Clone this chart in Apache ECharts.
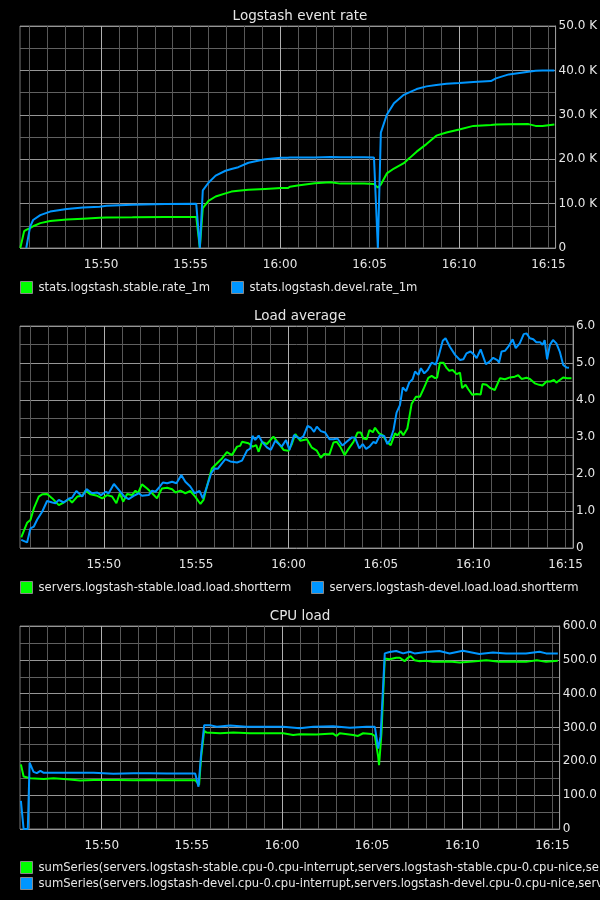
<!DOCTYPE html>
<html>
<head>
<meta charset="utf-8">
<script src="https://cdn.jsdelivr.net/npm/echarts@6/dist/echarts.min.js"></script>
<style>
  html, body { margin: 0; padding: 0; background: #000; }
  #main { width: 600px; height: 900px; }
</style>
</head>
<body>
<div id="main"></div>
<script>
// all times are seconds after 15:45:00
const axisStart = 28
const axisEnd = 1824
const tickLabels = ['15:50', '15:55', '16:00', '16:05', '16:10', '16:15']
const majorGridLabels = ['15:50', '16:00', '16:10']

// Logstash event rate (thousands of events)
const rateTimes = ['15:45:29', '15:45:42', '15:45:49', '15:46:02', '15:46:12', '15:46:36', '15:47:09', '15:48:05', '15:48:59', '15:49:55',
  '15:50:18', '15:51:45', '15:53:35', '15:55:19', '15:55:31', '15:55:41', '15:56:00', '15:56:24', '15:56:57', '15:57:17',
  '15:57:40', '15:58:14', '15:59:10', '16:00:03', '16:00:26', '16:00:33', '16:00:59', '16:01:56', '16:02:49', '16:03:22',
  '16:04:42', '16:05:15', '16:05:28', '16:05:38', '16:05:58', '16:06:22', '16:06:55', '16:07:15', '16:07:38', '16:08:11',
  '16:08:44', '16:09:18', '16:10:01', '16:10:48', '16:11:47', '16:12:04', '16:12:47', '16:13:53', '16:14:17', '16:14:40', '16:15:20']
const rateStable = [0, 3.8, 4.1, 4.5, 4.9, 5.6, 6.1, 6.4, 6.6, 6.8,
  6.85, 6.9, 7.0, 7.0, 0, 9.0, 10.6, 11.6, 12.3, 12.7,
  12.9, 13.1, 13.3, 13.5, 13.5, 13.8, 14.1, 14.6, 14.8, 14.5,
  14.5, 14.4, 13.6, 14.3, 16.8, 17.9, 19.1, 20.3, 21.7, 23.4,
  25.3, 26.0, 26.7, 27.5, 27.7, 27.8, 27.85, 27.9, 27.5, 27.5, 27.8]
const rateDevel = [null, null, 0, 4.8, 6.3, 7.4, 8.2, 8.8, 9.1, 9.3,
  9.5, 9.75, 9.9, 9.95, 0, 13.0, 14.7, 16.3, 17.4, 17.8,
  18.2, 19.2, 20.0, 20.3, 20.35, 20.4, 20.4, 20.4, 20.5, 20.45,
  20.45, 20.4, 0, 26.0, 30.0, 32.6, 34.5, 35.1, 35.8, 36.4,
  36.7, 37.0, 37.15, 37.4, 37.6, 38.2, 39.1, 39.7, 39.9, 40.0, 40.0]

// Load average
const loadStableSec = [32, 51, 62, 73, 89, 100, 116, 133, 154, 170, 187, 197, 214, 230, 241, 257, 279, 295, 311, 327,
  341, 352, 363, 376, 392, 403, 411, 424, 441, 457, 473, 489, 506, 522, 533, 549, 565, 581, 597, 614,
  624, 635, 651, 668, 684, 700, 716, 733, 743, 749, 770, 784, 795, 803, 814, 830, 851, 868, 884, 900,
  911, 922, 938, 960, 976, 992, 1005, 1016, 1033, 1046, 1057, 1068, 1082, 1095, 1111, 1124, 1135, 1143, 1154, 1163,
  1174, 1181, 1194, 1206, 1219, 1232, 1246, 1254, 1264, 1273, 1286, 1300, 1314, 1327, 1338, 1354, 1365, 1376, 1383, 1392,
  1403, 1414, 1422, 1433, 1446, 1457, 1464, 1475, 1484, 1497, 1511, 1524, 1530, 1543, 1556, 1570, 1587, 1603, 1619, 1635,
  1646, 1657, 1673, 1684, 1700, 1714, 1725, 1738, 1751, 1762, 1770, 1781, 1792, 1805, 1819]
const loadStable = [0.29, 0.68, 0.76, 1.07, 1.39, 1.45, 1.46, 1.34, 1.16, 1.23, 1.32, 1.23, 1.39, 1.41, 1.55, 1.45, 1.41, 1.34, 1.43, 1.39,
  1.21, 1.48, 1.25, 1.46, 1.43, 1.55, 1.48, 1.72, 1.61, 1.48, 1.34, 1.61, 1.63, 1.59, 1.50, 1.55, 1.48, 1.54, 1.39, 1.19,
  1.30, 1.66, 2.15, 2.29, 2.42, 2.59, 2.51, 2.74, 2.76, 2.87, 2.83, 2.74, 2.78, 2.60, 2.87, 2.81, 3.01, 2.83, 2.65, 2.63,
  2.81, 3.08, 2.90, 2.94, 2.71, 2.63, 2.44, 2.54, 2.53, 2.85, 2.87, 2.74, 2.51, 2.68, 2.87, 3.12, 3.12, 2.96, 2.94, 3.19,
  3.13, 3.25, 3.10, 3.05, 2.87, 2.78, 3.10, 3.04, 3.16, 3.05, 3.23, 3.90, 4.09, 4.09, 4.29, 4.60, 4.65, 4.59, 4.61, 5.01,
  5.01, 4.86, 4.79, 4.81, 4.70, 4.74, 4.32, 4.41, 4.29, 4.14, 4.16, 4.15, 4.43, 4.41, 4.32, 4.27, 4.59, 4.56, 4.61, 4.63,
  4.67, 4.57, 4.60, 4.57, 4.45, 4.41, 4.39, 4.50, 4.50, 4.54, 4.47, 4.54, 4.61, 4.59, 4.59]
const loadDevelSec = [32, 51, 62, 73, 84, 100, 116, 133, 143, 154, 170, 187, 197, 211, 230, 244, 262, 279, 291, 306,
  316, 333, 349, 367, 381, 397, 414, 424, 446, 457, 468, 482, 492, 506, 522, 536, 552, 565, 581, 595,
  611, 622, 635, 649, 660, 670, 684, 695, 711, 733, 749, 765, 776, 783, 792, 803, 814, 830, 843, 857,
  878, 892, 903, 918, 938, 949, 962, 973, 983, 992, 1005, 1019, 1033, 1046, 1059, 1075, 1089, 1106, 1116, 1130,
  1141, 1152, 1163, 1176, 1184, 1197, 1211, 1221, 1230, 1241, 1251, 1262, 1271, 1282, 1292, 1303, 1311, 1322, 1330, 1341,
  1352, 1365, 1378, 1387, 1401, 1410, 1424, 1441, 1457, 1468, 1478, 1491, 1503, 1511, 1524, 1541, 1552, 1565, 1578, 1584,
  1592, 1603, 1614, 1628, 1638, 1651, 1664, 1673, 1684, 1695, 1705, 1718, 1725, 1732, 1740, 1749, 1759, 1770, 1781, 1792,
  1803, 1811]
const loadDevel = [0.22, 0.15, 0.53, 0.58, 0.77, 0.98, 1.27, 1.23, 1.21, 1.30, 1.23, 1.34, 1.36, 1.54, 1.39, 1.59, 1.48, 1.50, 1.43, 1.52,
  1.48, 1.73, 1.57, 1.39, 1.32, 1.41, 1.48, 1.41, 1.43, 1.55, 1.52, 1.66, 1.77, 1.75, 1.79, 1.75, 1.97, 1.79, 1.66, 1.48,
  1.54, 1.34, 1.66, 2.02, 2.15, 2.14, 2.29, 2.40, 2.34, 2.31, 2.36, 2.63, 2.69, 3.03, 2.92, 3.04, 2.87, 2.72, 2.65, 2.90,
  2.74, 2.92, 2.65, 3.05, 2.95, 3.03, 3.30, 3.25, 3.14, 3.28, 3.16, 3.12, 2.94, 2.94, 2.96, 2.77, 2.87, 2.99, 2.98, 2.69,
  2.81, 2.68, 2.74, 2.87, 2.83, 3.05, 3.03, 2.81, 2.92, 3.19, 3.66, 3.86, 4.34, 4.24, 4.47, 4.56, 4.77, 4.68, 4.86, 4.72,
  4.81, 5.01, 4.96, 5.17, 5.60, 5.67, 5.44, 5.22, 5.08, 5.10, 5.26, 5.31, 5.22, 5.13, 5.37, 4.97, 5.03, 5.14, 5.08, 5.01,
  5.31, 5.33, 5.44, 5.64, 5.40, 5.53, 5.78, 5.80, 5.67, 5.64, 5.56, 5.56, 5.49, 5.62, 5.10, 5.49, 5.62, 5.53, 5.31, 4.95,
  4.88, 4.87]

// CPU load
const cpuStableSec = [31, 40, 62, 107, 140, 184, 228, 273, 350, 406, 461, 516, 561, 611, 618, 624, 631, 641, 649, 694,
  738, 793, 849, 904, 937, 959, 1015, 1070, 1081, 1092, 1137, 1153, 1170, 1197, 1209, 1220, 1223, 1231, 1242, 1258,
  1280, 1292, 1308, 1319, 1328, 1341, 1358, 1380, 1402, 1458, 1491, 1535, 1580, 1624, 1668, 1712, 1748, 1779, 1818]
const cpuStable = [191, 155, 150, 148, 150, 147, 143, 145, 145, 144, 145, 144, 144, 144, 137, 130, 214, 290, 285, 283,
  285, 283, 283, 283, 278, 280, 279, 282, 275, 283, 278, 275, 283, 281, 275, 214, 189, 283, 504, 502,
  506, 506, 496, 506, 511, 499, 496, 497, 494, 495, 492, 495, 499, 494, 495, 494, 499, 494, 497]
const cpuDevelSec = [31, 40, 54, 60, 73, 84, 96, 107, 184, 273, 339, 406, 461, 516, 561, 611, 622, 631, 641, 660,
  683, 727, 782, 849, 904, 959, 1004, 1070, 1126, 1181, 1209, 1220, 1228, 1242, 1258, 1280, 1303, 1325, 1341, 1380,
  1424, 1458, 1502, 1557, 1602, 1646, 1712, 1757, 1779, 1818]
const cpuDevel = [83, 0, 0, 196, 169, 165, 172, 166, 166, 166, 163, 165, 165, 164, 164, 164, 125, 224, 307, 307,
  302, 306, 302, 302, 302, 298, 302, 304, 299, 302, 302, 238, 273, 519, 523, 526, 519, 524, 519, 523,
  526, 519, 527, 517, 522, 519, 519, 524, 519, 519]

const stableCpuName = 'sumSeries(servers.logstash-stable.cpu-0.cpu-interrupt,servers.logstash-stable.cpu-0.cpu-nice,servers.logstash-stable.cpu-0.cpu-softirq,servers.logstash-stable.cpu-0.cpu-system,servers.logstash-stable.cpu-0.cpu-user)'
const develCpuName = 'sumSeries(servers.logstash-devel.cpu-0.cpu-interrupt,servers.logstash-devel.cpu-0.cpu-nice,servers.logstash-devel.cpu-0.cpu-softirq,servers.logstash-devel.cpu-0.cpu-system,servers.logstash-devel.cpu-0.cpu-user)'

const green = '#00ff00'
const blue = '#0096ff'
const textColor = '#e6e6e6'
const font = 'DejaVu Sans'

function toSec(s) {
  const p = s.split(':').map(Number)
  return p[0] * 3600 + p[1] * 60 + (p[2] || 0) - (15 * 3600 + 45 * 60)
}
function clock(sec) {
  const t = 15 * 60 + 45 + Math.round(sec / 60)
  return Math.floor(t / 60) + ':' + String(t % 60).padStart(2, '0')
}
function pairs(times, values) {
  return times.map((t, i) => [typeof t === 'string' ? toSec(t) : t, values[i]])
}

const labelSec = tickLabels.map(toSec)
const majorSec = majorGridLabels.map(toSec)
const minorSec = []
for (let m = 1; m <= 30; m++) {
  if (majorSec.indexOf(m * 60) < 0) minorSec.push(m * 60)
}

function xAxes(gi) {
  return [{
    type: 'value', gridIndex: gi, min: axisStart, max: axisEnd, position: 'bottom', z: 1,
    axisLine: { show: false },
    axisTick: { show: false, customValues: minorSec },
    axisLabel: { show: false, customValues: minorSec },
    splitLine: { show: true, lineStyle: { color: '#585858', width: 1 } }
  }, {
    type: 'value', gridIndex: gi, min: axisStart, max: axisEnd, position: 'bottom', z: 2,
    axisLine: { show: false },
    axisTick: { show: false, customValues: majorSec },
    axisLabel: { customValues: labelSec, formatter: clock, color: textColor, fontSize: 12, fontFamily: font, margin: 11 },
    splitLine: { show: true, lineStyle: { color: '#b0b0b0', width: 1 } }
  }]
}
function yAxis(gi, max, interval, fmt) {
  return {
    type: 'value', gridIndex: gi, position: 'right', min: 0, max: max, interval: interval,
    axisLine: { show: true, lineStyle: { color: '#999' } },
    axisTick: { show: false },
    axisLabel: { formatter: fmt, color: textColor, fontSize: 12, fontFamily: font, margin: 3 },
    splitLine: { show: true, lineStyle: { color: '#969696' } },
    minorTick: { show: false, splitNumber: 2 },
    minorSplitLine: { show: true, lineStyle: { color: '#606060' } }
  }
}
function line(name, xi, yi, data, color) {
  return {
    name: name, type: 'line', xAxisIndex: xi, yAxisIndex: yi, data: data,
    showSymbol: false, symbol: 'none', connectNulls: false,
    lineStyle: { width: 2, color: color }, itemStyle: { color: color }
  }
}
function legend(names, left, top, orient) {
  return {
    data: names, left: left, top: top, orient: orient || 'horizontal', padding: 0, itemGap: 3,
    icon: 'rect', itemWidth: 12, itemHeight: 12, selectedMode: false,
    itemStyle: { borderColor: '#888', borderWidth: 1 },
    textStyle: { color: textColor, fontSize: 11.6, fontFamily: font, padding: [0, 0, 0, 1] }
  }
}

const chart = echarts.init(document.getElementById('main'))
chart.setOption({
  backgroundColor: '#000',
  animation: false,
  title: [
    { text: 'Logstash event rate', left: 'center', top: 9 },
    { text: 'Load average', left: 'center', top: 309 },
    { text: 'CPU load', left: 'center', top: 609 }
  ].map(t => Object.assign(t, { padding: 0, textStyle: { color: textColor, fontSize: 13.5, fontWeight: 'normal', fontFamily: font } })),
  grid: [
    { left: 20, top: 26, width: 540, height: 222 },
    { left: 20, top: 326, width: 553, height: 222 },
    { left: 20, top: 626, width: 540, height: 203 }
  ].map(g => Object.assign(g, { show: true, borderColor: '#777', borderWidth: 1, backgroundColor: 'transparent' })),
  xAxis: [].concat(xAxes(0), xAxes(1), xAxes(2)),
  yAxis: [
    yAxis(0, 50, 10, v => v === 0 ? '0' : v.toFixed(1) + ' K'),
    yAxis(1, 6, 1, v => v === 0 ? '0' : v.toFixed(1)),
    yAxis(2, 600, 100, v => v === 0 ? '0' : v.toFixed(1))
  ],
  legend: [
    legend(['stats.logstash.stable.rate_1m'], 20, 281),
    legend(['stats.logstash.devel.rate_1m'], 231, 281),
    legend(['servers.logstash-stable.load.load.shortterm'], 20, 581),
    legend(['servers.logstash-devel.load.load.shortterm'], 311, 581),
    legend([stableCpuName, develCpuName], 20, 861, 'vertical')
  ],
  series: [
    line('stats.logstash.stable.rate_1m', 1, 0, pairs(rateTimes, rateStable), green),
    line('stats.logstash.devel.rate_1m', 1, 0, pairs(rateTimes, rateDevel), blue),
    line('servers.logstash-stable.load.load.shortterm', 3, 1, pairs(loadStableSec, loadStable), green),
    line('servers.logstash-devel.load.load.shortterm', 3, 1, pairs(loadDevelSec, loadDevel), blue),
    line(stableCpuName, 5, 2, pairs(cpuStableSec, cpuStable), green),
    line(develCpuName, 5, 2, pairs(cpuDevelSec, cpuDevel), blue)
  ]
})
</script>
</body>
</html>
